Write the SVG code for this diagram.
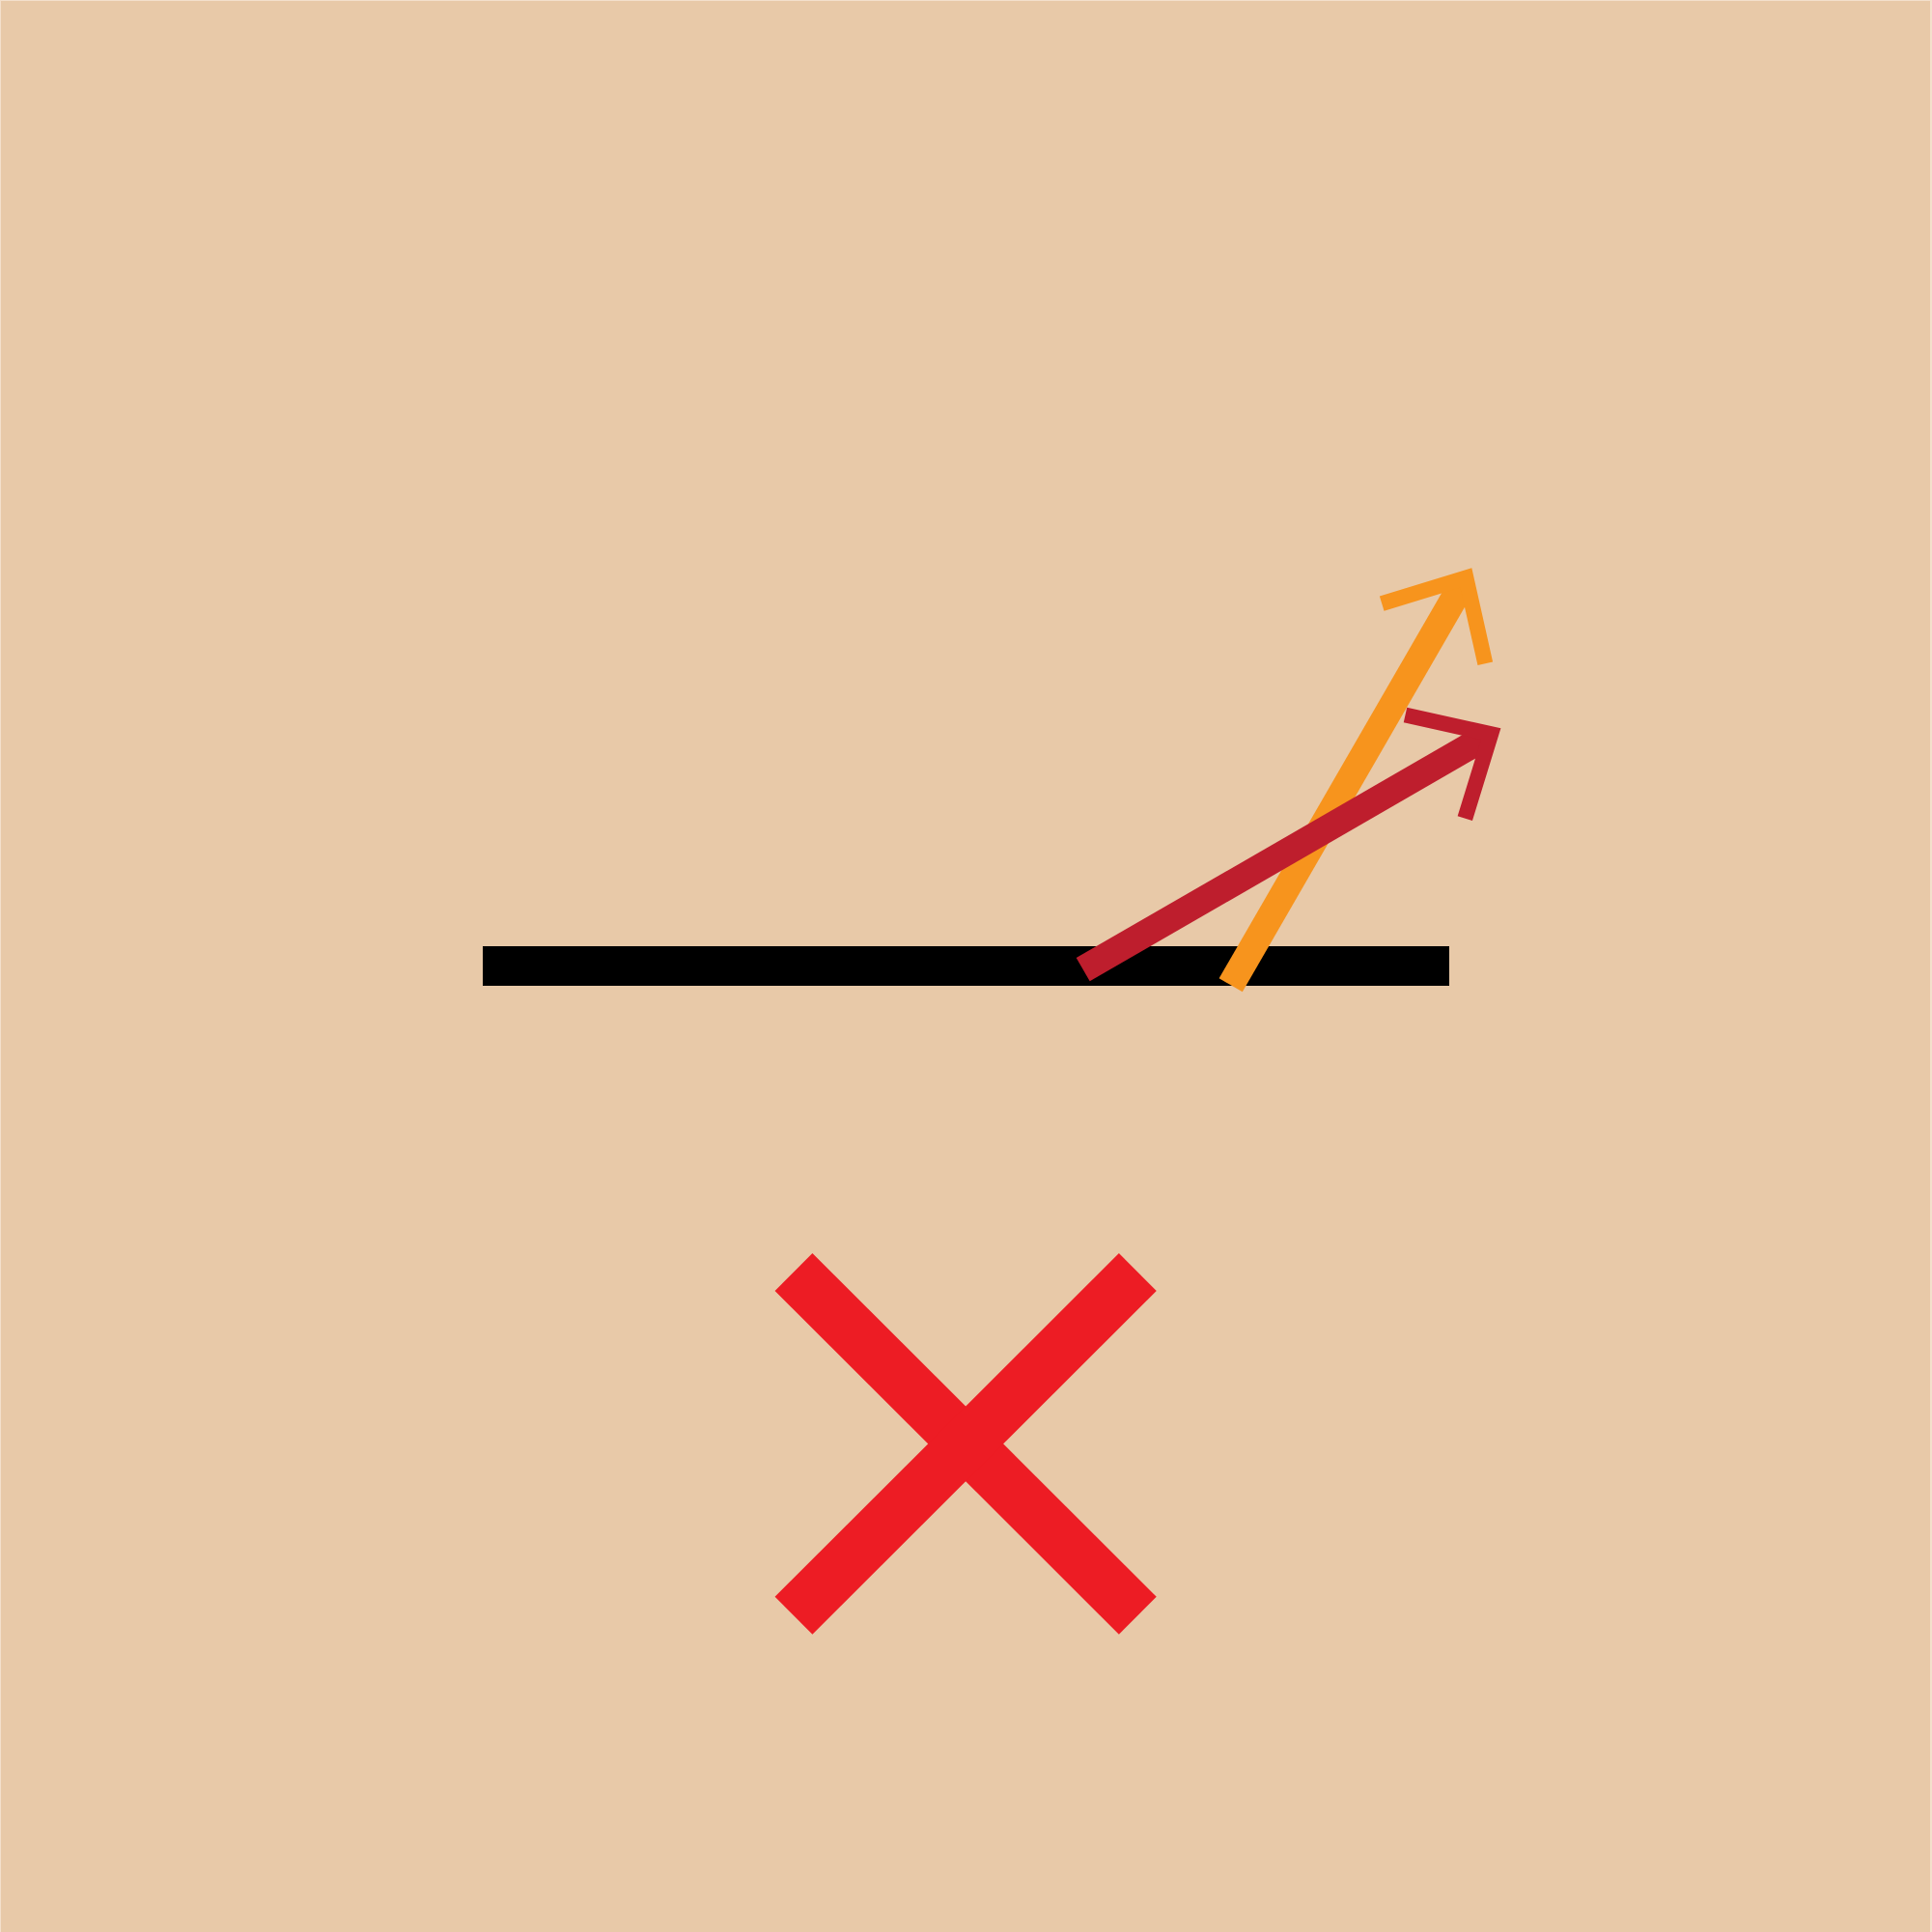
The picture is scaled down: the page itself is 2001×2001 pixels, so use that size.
<svg xmlns="http://www.w3.org/2000/svg" width="2001" height="2001" viewBox="0 0 2001 2001">
<style>
.head{fill:none;stroke-width:16;stroke-linecap:butt;stroke-linejoin:miter;stroke-miterlimit:10}
.orange{stroke:#F7941D}
.ofill{fill:#F7941D}
.red{stroke:#BE1E2D}
.rfill{fill:#BE1E2D}
.cross{stroke:#ED1C24;stroke-width:55;stroke-linecap:butt}
</style>
<rect x="0" y="0" width="2001" height="2001" fill="#F3E0CC"/>
<rect x="1" y="1" width="1998" height="2000" fill="#E8C9A8"/>
<g id="surface">
<rect x="500" y="980" width="1001" height="41" fill="#000000"/>
</g>
<g id="connectors">
<g id="orange-arrow">
<polygon class="ofill" points="1262.6,1013.3 1286.8,1027.3 1520.5,622.7 1518.4,598.4 1496.3,608.7"/>
<polyline class="head orange" points="1431.2,625.2 1518.4,598.4 1538.3,687.3"/>
</g>
<g id="red-arrow">
<polygon class="rfill" points="1114.7,992.1 1128.7,1016.3 1533.9,782.3 1544.2,760.2 1519.9,758.1"/>
<polyline class="head red" points="1455.5,740.5 1544.2,760.2 1517.3,847.7"/>
</g>
</g>
<g id="cross">
<line class="cross" x1="822" y1="1317.5" x2="1178.3" y2="1673.3"/>
<line class="cross" x1="1178.3" y1="1317.5" x2="822" y2="1673.3"/>
</g>
</svg>
